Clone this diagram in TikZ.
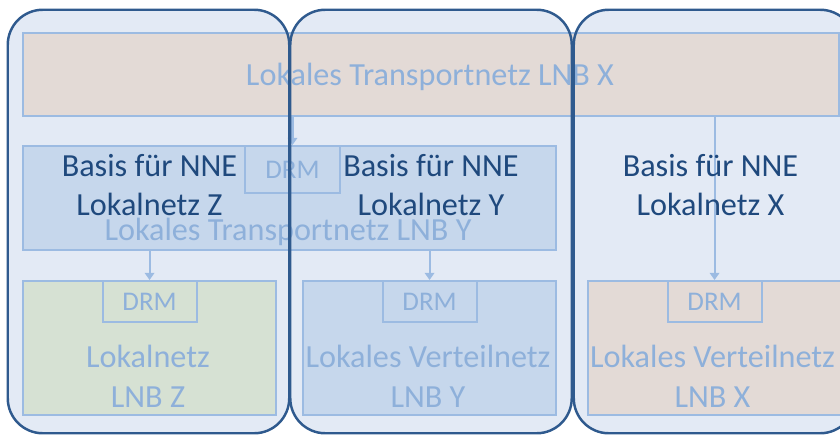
\documentclass[tikz,border=0pt]{standalone}
\usepackage{fontspec}
\setmainfont{Carlito}
\usetikzlibrary{positioning,arrows.meta}
\definecolor{zoneline}{HTML}{2F5A8E}
\definecolor{zonefill}{HTML}{E3EAF5}
\definecolor{lightline}{HTML}{9CBBE2}
\definecolor{lighttext}{HTML}{8EB0DA}
\definecolor{darktext}{HTML}{1F497D}
\definecolor{bandrose}{HTML}{E3DAD6}
\definecolor{bandblue}{HTML}{C6D7EC}
\definecolor{bandgreen}{HTML}{D6E1D3}
\tikzset{
zone/.style={
  rectangle,
  rounded corners=1.05cm,
  fill=zonefill,
  minimum width=8.43cm,
  minimum height=12.69cm
  },
zoneedge/.style={draw=zoneline,line width=2.1pt,rounded corners=1.05cm},
netbox/.style={
  rectangle,
  draw=lightline,
  line width=1.8pt,
  minimum width=7.59cm,
  minimum height=4.02cm
  },
drmbox/.style={
  rectangle,
  draw=lightline,
  line width=1.8pt,
  text=lighttext,
  font=\fontsize{23}{28}\selectfont,
  minimum width=2.82cm,
  minimum height=1.23cm
  },
lbl/.style={text=lighttext,inner sep=0pt,align=center,
  font=\fontsize{27.5}{34}\selectfont},
basis/.style={text=darktext,inner sep=0pt,align=center,
  font=\fontsize{27.5}{34}\selectfont},
feed/.style={draw=lightline,line width=1.8pt,-{Triangle[length=6pt,width=8pt]}}
}
\begin{document}
\begin{tikzpicture}[x=0.03cm,y=-0.03cm]
\useasboundingbox (0,0) rectangle (840,435);
% zones
\node[zone] (zoneZ) at (148.5,221.5) {};
\node[zone] (zoneY) at (431,221.5) {};
\node[zone] (zoneX) at (714.5,221.5) {};

% transport networks
\node[netbox,fill=bandrose,minimum width=24.48cm,minimum height=2.49cm,
  anchor=north west] (transX) at (22,32) {};
\node[netbox,fill=bandblue,minimum width=15.99cm,minimum height=3.12cm,
  anchor=north west] (transY) at (22,145) {};
\node[drmbox,minimum width=2.85cm,minimum height=1.41cm,
  anchor=north] (drmT) at (292.5,145) {DRM};

% local networks
\node[netbox,fill=bandgreen,anchor=north west] (netZ) at (22,280) {};
\node[netbox,fill=bandblue,anchor=north west] (netY) at (302,280) {};
\node[netbox,fill=bandrose,anchor=north west] (netX) at (587,280) {};
\node[drmbox,anchor=north] (drmZ) at (netZ.north) {DRM};
\node[drmbox,anchor=north] (drmY) at (netY.north) {DRM};
\node[drmbox,anchor=north] (drmX) at (netX.north) {DRM};

\node[lbl,anchor=base] (transXlbl) at (430,85) {Lokales Transportnetz LNB X};
\node[lbl,anchor=base] (transYlbl) at (288,240) {Lokales Transportnetz LNB Y};
\node[lbl] (netZlbl) at (148,376) {Lokalnetz\\LNB Z};
\node[lbl] (netYlbl) at (428,376) {Lokales Verteilnetz\\LNB Y};
\node[lbl] (netXlbl) at (712.5,376) {Lokales Verteilnetz\\LNB X};

% feeds
\draw[feed] (transX.south -| drmT.north) -- (drmT.north);
\draw[feed] (transY.south -| drmZ.north) -- (drmZ.north);
\draw[feed] (transY.south -| drmY.north) -- (drmY.north);
\draw[feed] (transX.south -| drmX.north) -- (drmX.north);

\node[basis] (basisZ) at (149.5,185) {Basis für NNE\\Lokalnetz Z};
\node[basis] (basisY) at (431,185) {Basis für NNE\\Lokalnetz Y};
\node[basis] (basisX) at (710.5,185) {Basis für NNE\\Lokalnetz X};

% zone borders
\foreach \z in {zoneZ,zoneY,zoneX}
  \draw[zoneedge] (\z.north west) rectangle (\z.south east);
\end{tikzpicture}
\end{document}
